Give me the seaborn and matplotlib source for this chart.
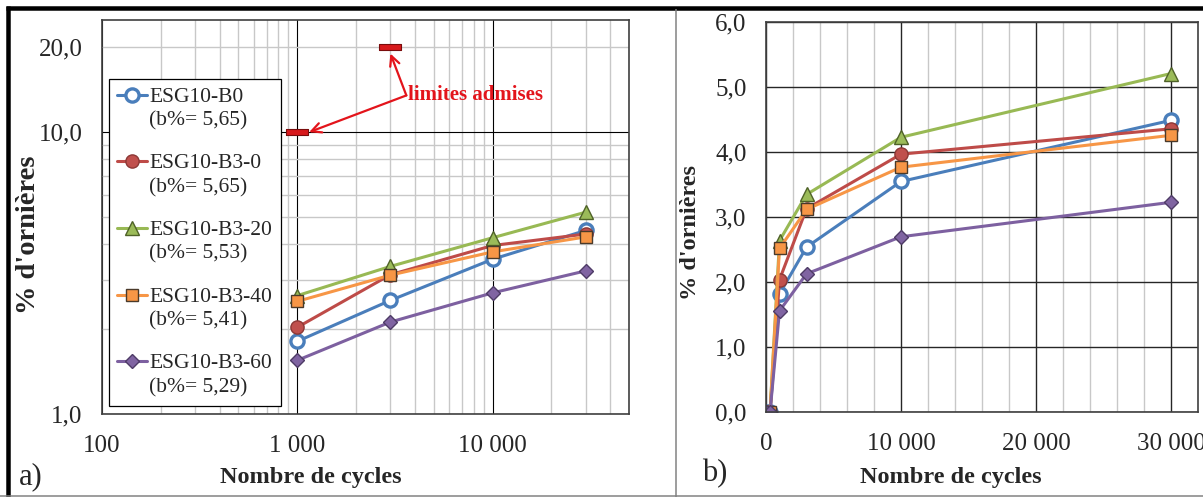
import matplotlib
matplotlib.use("Agg")
import matplotlib.pyplot as plt
import seaborn as sns
import numpy as np
import pandas as pd
from matplotlib.ticker import FixedLocator, FuncFormatter, NullFormatter, MultipleLocator
from matplotlib.legend_handler import HandlerLine2D
from matplotlib.lines import Line2D

# ---------------- data ----------------
cycles_log = [1000, 3000, 10000, 30000]
cycles_lin = [0, 300, 1000, 3000, 10000, 30000]
start_values = [0.0, 0.0]

series_names = ["ESG10-B0", "ESG10-B3-0", "ESG10-B3-20", "ESG10-B3-40", "ESG10-B3-60"]
binder_contents = ["5,65", "5,65", "5,53", "5,41", "5,29"]

rut_b0 = [1.81, 2.53, 3.54, 4.48]
rut_b3_0 = [2.03, 3.12, 3.96, 4.35]
rut_b3_20 = [2.63, 3.34, 4.22, 5.20]
rut_b3_40 = [2.51, 3.11, 3.76, 4.25]
rut_b3_60 = [1.55, 2.12, 2.69, 3.22]
rut_values = [rut_b0, rut_b3_0, rut_b3_20, rut_b3_40, rut_b3_60]

limit_cycles = [1000, 3000]
limit_values = [10.0, 20.0]

xticks_log = [100, 1000, 10000]
yticks_log = [1, 10]
ytick_extra = [20]
xticks_lin = [0, 10000, 20000, 30000]
yticks_lin = [0, 1, 2, 3, 4, 5, 6]

# ---------------- styles ----------------
styles = [
    dict(color="#4A7EBB", marker="o", markerfacecolor="white", markeredgecolor="#4A7EBB",
         markeredgewidth=2.4, markersize=9.5),
    dict(color="#BE4B48", marker="o", markerfacecolor="#C0504D", markeredgecolor="#8C3836",
         markeredgewidth=1.0, markersize=9.5),
    dict(color="#98B954", marker="^", markerfacecolor="#9BBB59", markeredgecolor="#4F6228",
         markeredgewidth=1.0, markersize=10),
    dict(color="#F79646", marker="s", markerfacecolor="#F79646", markeredgecolor="#4A3A2A",
         markeredgewidth=1.0, markersize=9),
    dict(color="#7D60A0", marker="D", markerfacecolor="#8064A2", markeredgecolor="#4E3B66",
         markeredgewidth=1.0, markersize=7.5),
]

sns.set_style("white")
plt.rcParams["font.family"] = ["Liberation Serif", "DejaVu Serif"]
plt.rcParams["axes.axisbelow"] = True

W, H = 1203, 497
fig = plt.figure(figsize=(W / 100, H / 100), dpi=100)

def px_box(l, r, t, b):
    return [l / W, 1 - b / H, (r - l) / W, (b - t) / H]

axL = fig.add_axes(px_box(102, 629, 20, 414))
axR = fig.add_axes(px_box(766, 1198, 21.5, 411.7))

TICK_FS = 18
LABEL_FS = 17.5
LW = 2.2
red = "#E3141B"

# ---------------- left panel (log-log) ----------------
axL.set_xscale("log")
axL.set_yscale("log")
for name, vals, st in zip(series_names, rut_values, styles):
    sns.lineplot(x=cycles_log, y=vals, ax=axL, linewidth=LW, legend=False, **st)

rect_marker = [(-5, -1.2), (5, -1.2), (5, 1.2), (-5, 1.2), (-5, -1.2)]
axL.plot(limit_cycles, limit_values, linestyle="none", marker=rect_marker, markersize=16,
         markerfacecolor="#D7191C", markeredgecolor="#7A0C0C", markeredgewidth=0.8, zorder=5)

arrow_kw = dict(arrowstyle="->,head_length=0.7,head_width=0.35", color=red, lw=1.6,
                shrinkA=0, shrinkB=0)
axL.annotate("", xy=(3000, 19.0), xytext=(3620, 13.5), arrowprops=arrow_kw)
axL.annotate("", xy=(1150, 10.0), xytext=(3620, 13.5), arrowprops=arrow_kw)
axL.text(3700, 13.6, "limites admises", color=red, fontsize=15, fontweight="bold",
         ha="left", va="center")

axL.set_xlim(100, 50000)
axL.set_ylim(1, 25)

fmt_num = lambda v: f"{int(round(v)):,}".replace(",", " ")
fmt_dec = lambda v: f"{v:.1f}".replace(".", ",")

axL.xaxis.set_major_locator(FixedLocator(xticks_log))
axL.xaxis.set_major_formatter(FuncFormatter(lambda v, p: fmt_num(v)))
minor_x = [m * d for d in (100, 1000, 10000) for m in range(2, 10) if m * d <= 50000]
axL.xaxis.set_minor_locator(FixedLocator(minor_x))
axL.xaxis.set_minor_formatter(NullFormatter())

axL.yaxis.set_major_locator(FixedLocator(yticks_log))
axL.yaxis.set_major_formatter(FuncFormatter(lambda v, p: fmt_dec(v)))
minor_y = [2, 3, 4, 5, 6, 7, 8, 9] + ytick_extra
axL.yaxis.set_minor_locator(FixedLocator(minor_y))
axL.yaxis.set_minor_formatter(FuncFormatter(lambda v, p: fmt_dec(v) if v in ytick_extra else ""))

axL.grid(which="major", color="black", linewidth=0.8)
axL.grid(which="minor", color="#C8C8C8", linewidth=1.0)

axL.tick_params(which="major", direction="out", length=4.5, width=0.9, color="#404040",
                labelsize=TICK_FS)
axL.tick_params(axis="y", which="major", pad=9.5)
axL.tick_params(axis="x", which="major", pad=10.5)
axL.tick_params(which="minor", length=0, labelsize=TICK_FS)
axL.tick_params(axis="y", which="minor", pad=14)
axL.set_xlabel("")
axL.set_ylabel("")

# legend with marker on first line
class TopHandler(HandlerLine2D):
    def __init__(self, shift, **kw):
        super().__init__(**kw)
        self.shift = shift

    def create_artists(self, legend, orig_handle, xdescent, ydescent, width, height,
                       fontsize, trans):
        return super().create_artists(legend, orig_handle, xdescent, ydescent - 2 * self.shift,
                                      width, height, fontsize, trans)

LEG_FS = 15.5
handles = axL.lines[:5]
labels = [f"{n}\n(b%= {b})" for n, b in zip(series_names, binder_contents)]
leg = axL.legend(handles, labels, loc="upper left", bbox_to_anchor=(0.013, 0.85),
                 borderaxespad=0, fontsize=LEG_FS, frameon=True, fancybox=False,
                 edgecolor="black", framealpha=1, handlelength=1.35, handletextpad=0.12,
                 labelspacing=1.1, borderpad=0.4,
                 handler_map={h: TopHandler(shift=10) for h in handles})
leg.get_frame().set_linewidth(0.9)
for t in leg.get_texts():
    t.set_linespacing(1.33)

# ---------------- right panel (linear) ----------------
for name, vals, st in zip(series_names, rut_values, styles):
    sns.lineplot(x=cycles_lin, y=start_values + vals, ax=axR, linewidth=LW, legend=False,
                 **st)
axR.set_xlim(0, 32000)
axR.set_ylim(0, 6)
axR.xaxis.set_major_locator(FixedLocator(xticks_lin))
axR.xaxis.set_major_formatter(FuncFormatter(lambda v, p: fmt_num(v)))
axR.xaxis.set_minor_locator(MultipleLocator(2000))
axR.yaxis.set_major_locator(FixedLocator(yticks_lin))
axR.yaxis.set_major_formatter(FuncFormatter(lambda v, p: fmt_dec(v)))
axR.grid(which="major", color="#262626", linewidth=1.0)
axR.grid(which="minor", axis="x", color="#C8C8C8", linewidth=1.0)
axR.tick_params(which="major", direction="out", length=4.5, width=0.9, color="#404040",
                labelsize=TICK_FS)
axR.tick_params(axis="y", which="major", pad=9.5)
axR.tick_params(axis="x", which="major", pad=10.5)
axR.tick_params(which="minor", length=0)
axR.set_xlabel("")
axR.set_ylabel("")

for ax in (axL, axR):
    for s in ax.spines.values():
        s.set_color("#404040")
        s.set_linewidth(1.2)

# ---------------- labels ----------------
fig.text(311 / W, 1 - 477 / H, "Nombre de cycles", fontsize=LABEL_FS, fontweight="bold",
         ha="center", va="center")
fig.text(951 / W, 1 - 477 / H, "Nombre de cycles", fontsize=LABEL_FS, fontweight="bold",
         ha="center", va="center")
fig.text(29 / W, 1 - 235 / H, "% d'ornières", fontsize=20.5, fontweight="bold",
         rotation=90, ha="center", va="center")
fig.text(690 / W, 1 - 232 / H, "% d'ornières", fontsize=17.5, fontweight="bold",
         rotation=90, ha="center", va="center")
fig.text(19 / W, 1 - 477 / H, "a)", fontsize=22, ha="left", va="center")
fig.text(702 / W, 1 - 474 / H, "b)", fontsize=22, ha="left", va="center")

# ---------------- frame lines ----------------
def fig_line(x0, y0, x1, y1, color, lw_px):
    fig.add_artist(Line2D([x0 / W, x1 / W], [1 - y0 / H, 1 - y1 / H], transform=fig.transFigure,
                          color=color, linewidth=lw_px * 0.72, solid_capstyle="butt"))

fig_line(6, 7.5, W, 7.5, "black", 4.5)
fig_line(8, 5.5, 8, H, "black", 4.5)
fig_line(0, 495.5, W, 495.5, "#808080", 1.5)
fig_line(676, 9, 676, H, "#808080", 1.5)

fig.savefig("out.png", dpi=100)
